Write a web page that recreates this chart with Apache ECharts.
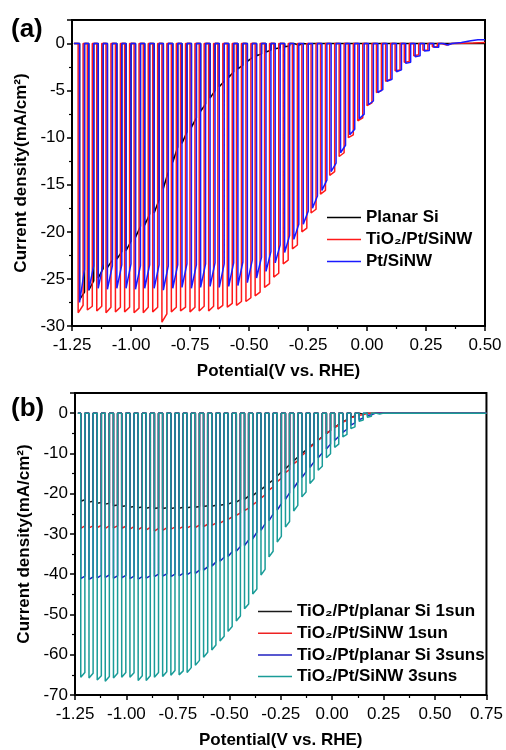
<!DOCTYPE html>
<html><head><meta charset="utf-8">
<script src="https://cdn.jsdelivr.net/npm/echarts@6/dist/echarts.min.js"></script>
<style>html,body{margin:0;padding:0;background:#fff}#c{width:506px;height:750px}</style>
</head><body><div id="c"></div>
<script>
// ================= Panel (a) data =================
const aSeriesNames = ['Planar Si', 'TiO\u2082/Pt/SiNW', 'Pt/SiNW'];
const aFirstV = -1.242;
const aOnWidth = 0.021;
// light-on start potentials (V vs RHE)
const aChopBlue = [-1.218,-1.179,-1.139,-1.100,-1.060,-1.021,-0.981,-0.942,-0.902,-0.863,-0.823,-0.784,-0.744,-0.705,-0.665,-0.626,-0.586,-0.547,-0.507,-0.468,-0.428,-0.389,-0.349,-0.310,-0.270,-0.231,-0.191,-0.152,-0.112,-0.073,-0.033,0.006,0.046,0.085,0.125,0.164,0.204,0.243,0.283,0.322];
const aChopRed = [-1.224,-1.185,-1.145,-1.106,-1.066,-1.027,-0.987,-0.948,-0.908,-0.869,-0.829,-0.790,-0.750,-0.711,-0.671,-0.632,-0.592,-0.553,-0.513,-0.474,-0.434,-0.395,-0.355,-0.316,-0.276,-0.237,-0.197,-0.158,-0.118,-0.079,-0.039,0.000,0.040,0.079,0.119,0.158,0.198,0.237,0.277,0.316];
// light-on current at start / end of each pulse (mA/cm2)
const aBlackStart = [-27.2,-26.2,-24.9,-23.8,-22.9,-22.0,-20.6,-19.3,-18.0,-15.4,-12.6,-10.6,-8.9,-7.2,-5.8,-4.6,-3.6,-2.7,-1.9,-1.3,-0.9,-0.55,-0.35,-0.2,-0.1,0,0,0,0,0,0,0,0,0,0,0,0,0,0,0];
const aBlackEnd   = [-26.4,-25.2,-23.9,-23.0,-22.1,-21.0,-19.4,-18.1,-16.6,-13.6,-11.0,-9.4,-7.9,-6.4,-5.0,-4.0,-3.0,-2.3,-1.5,-1.1,-0.7,-0.45,-0.25,-0.15,-0.05,0,0,0,0,0,0,0,0,0,0,0,0,0,0,0];
const aRedStart = [-28.6,-28.3,-28.4,-28.6,-28.5,-28.5,-28.6,-28.6,-28.5,-29.6,-28.5,-28.4,-28.5,-28.4,-28.4,-28.2,-28.0,-27.8,-27.4,-26.8,-25.9,-24.8,-23.4,-21.8,-20.0,-18.0,-16.0,-14.0,-12.0,-10.0,-8.2,-6.6,-5.2,-4.0,-2.9,-2.0,-1.3,-0.7,-0.35,-0.15];
const aRedEnd   = [-27.8,-27.9,-27.9,-28.0,-28.0,-28.0,-28.1,-28.0,-28.0,-28.7,-28.0,-28.0,-28.0,-27.9,-27.9,-27.8,-27.6,-27.4,-27.0,-26.4,-25.5,-24.4,-23.0,-21.4,-19.6,-17.6,-15.6,-13.6,-11.6,-9.7,-7.9,-6.3,-5.0,-3.8,-2.8,-1.9,-1.2,-0.7,-0.35,-0.15];
const aBlueStart = [-27.5,-26.2,-26.0,-26.1,-26.0,-26.0,-26.1,-26.0,-26.0,-26.2,-26.0,-25.9,-26.0,-25.9,-25.8,-25.9,-25.8,-25.7,-25.4,-24.9,-24.2,-23.3,-22.2,-20.8,-19.2,-17.5,-15.6,-13.6,-11.6,-9.7,-8.0,-6.5,-5.2,-4.0,-3.0,-2.1,-1.4,-0.8,-0.4,-0.15];
const aBlueEnd   = [-24.0,-23.6,-23.4,-23.6,-23.5,-23.4,-23.6,-23.5,-23.5,-23.6,-23.5,-23.4,-23.5,-23.4,-23.3,-23.4,-23.3,-23.2,-23.0,-22.7,-22.1,-21.4,-20.4,-19.2,-17.8,-16.2,-14.5,-12.7,-10.8,-9.1,-7.5,-6.1,-4.9,-3.8,-2.8,-2.0,-1.3,-0.75,-0.4,-0.15];
// dark current after the last chop
const aBlackTail = [[0.36,0],[0.50,0]];
const aRedTail = [[0.36,0],[0.45,0.05],[0.50,0.1]];
const aBlueTail = [[0.36,0],[0.40,0.1],[0.44,0.3],[0.47,0.4],[0.50,0.4]];

// ================= Panel (b) data =================
const bSeriesNames = ['TiO\u2082/Pt/planar Si 1sun','TiO\u2082/Pt/SiNW 1sun','TiO\u2082/Pt/planar Si 3suns','TiO\u2082/Pt/SiNW 3suns'];
const bFirstV = -1.236;
const bOnWidth = 0.02;
const bChop = [-1.222,-1.182,-1.142,-1.103,-1.063,-1.023,-0.983,-0.943,-0.904,-0.864,-0.824,-0.784,-0.744,-0.705,-0.665,-0.625,-0.585,-0.545,-0.506,-0.466,-0.426,-0.386,-0.346,-0.307,-0.267,-0.227,-0.187,-0.147,-0.108,-0.068,-0.028,0.012,0.052,0.091,0.131,0.171,0.211,0.251];
const bBlackStart = [-21.9,-22.1,-22.4,-22.6,-23.0,-23.2,-23.4,-23.5,-23.6,-23.7,-23.7,-23.7,-23.6,-23.5,-23.4,-23.2,-23.1,-22.9,-22.6,-22.1,-21.4,-20.5,-19.0,-17.4,-15.6,-13.8,-11.9,-10.0,-8.3,-6.7,-5.1,-3.6,-2.2,-1.1,-0.45,-0.15,0,0];
const bBlackEnd   = [-21.5,-21.9,-22.2,-22.4,-22.8,-23.0,-23.2,-23.3,-23.4,-23.5,-23.5,-23.5,-23.4,-23.3,-23.2,-23.0,-22.9,-22.7,-22.2,-21.5,-20.6,-19.7,-18.2,-16.6,-14.6,-12.8,-10.9,-9.2,-7.5,-5.9,-4.3,-2.8,-1.6,-0.7,-0.25,-0.05,0,0];
const bRedStart = [-28.6,-28.5,-28.4,-28.6,-28.5,-28.6,-28.8,-28.9,-29.0,-29.3,-29.1,-28.8,-28.7,-28.5,-28.4,-28.2,-27.9,-27.3,-26.4,-25.4,-24.2,-22.8,-21.1,-19.1,-17.0,-14.8,-12.6,-10.5,-8.5,-6.6,-5.0,-3.5,-2.2,-1.1,-0.5,-0.15,0,0];
const bRedEnd   = [-28.0,-28.0,-27.9,-28.0,-28.0,-28.1,-28.2,-28.3,-28.4,-28.6,-28.5,-28.3,-28.2,-28.0,-27.8,-27.6,-27.3,-26.7,-25.8,-24.8,-23.6,-22.0,-20.3,-18.3,-16.2,-14.0,-11.8,-9.7,-7.7,-6.0,-4.4,-3.0,-1.8,-0.9,-0.4,-0.1,0,0];
const bBlueStart = [-41.1,-41.3,-40.9,-40.8,-41.0,-40.9,-41.1,-41.2,-41.0,-40.6,-40.5,-40.6,-40.4,-40.1,-39.8,-39.0,-38.0,-36.8,-35.6,-34.3,-32.9,-31.2,-29.1,-26.7,-24.1,-21.4,-18.7,-16.0,-13.5,-11.1,-8.9,-6.8,-4.8,-3.0,-1.6,-0.6,-0.15,0];
const bBlueEnd   = [-40.5,-40.7,-40.3,-40.2,-40.4,-40.3,-40.5,-40.6,-40.4,-40.0,-39.9,-40.0,-39.8,-39.5,-39.0,-38.2,-37.0,-35.8,-34.4,-33.1,-31.5,-29.6,-27.5,-25.1,-22.5,-19.8,-17.1,-14.6,-12.1,-9.9,-7.7,-5.8,-4.0,-2.4,-1.2,-0.4,-0.05,0];
const bTealStart = [-65.6,-65.8,-66.3,-66.6,-65.8,-65.6,-65.6,-66.4,-66.4,-65.6,-65.4,-65.1,-65.0,-64.4,-62.6,-60.6,-58.8,-56.6,-54.2,-51.6,-48.6,-44.9,-40.2,-35.7,-32.0,-28.3,-24.3,-20.8,-17.5,-14.2,-11.1,-8.5,-5.9,-3.8,-2.0,-1.0,-0.3,-0.05];
const bTealEnd   = [-64.4,-64.6,-65.2,-65.4,-64.6,-64.4,-64.5,-65.2,-65.2,-64.4,-64.2,-63.9,-64.0,-63.2,-61.4,-59.4,-57.6,-55.4,-53.0,-50.4,-47.4,-43.7,-38.8,-34.3,-30.6,-26.9,-22.9,-19.6,-16.3,-13.2,-10.1,-7.7,-5.3,-3.4,-1.7,-0.8,-0.2,0];
const bTail = [[0.30,0],[0.75,0]];

// ================= Axis tick settings =================
const aX = {min: -1.25, max: 0.5, interval: 0.25};
const aY = {min: -30, max: 2.5, interval: 5};
const bX = {min: -1.25, max: 0.75, interval: 0.25};
const bY = {min: -70, max: 5, interval: 10};

function chopped(first, starts, width, js, je, tail) {
  const pts = [[first, 0]];
  for (let k = 0; k < starts.length; k++) {
    const s = starts[k], e = s + width;
    pts.push([s, 0], [s, js[k]], [e, je[k]], [e, 0]);
  }
  return pts.concat(tail);
}

const FONT = '"Liberation Sans", Arial, sans-serif';
const chart = echarts.init(document.getElementById('c'), null, {renderer: 'canvas', width: 506, height: 750});

function xAxisCfg(gi, r) {
  return {
    type: 'value', gridIndex: gi, min: r.min, max: r.max, interval: r.interval,
    name: 'Potential(V vs. RHE)', nameLocation: 'middle', nameGap: 37,
    nameTextStyle: {fontFamily: FONT, fontWeight: 'bold', fontSize: 17, color: '#000'},
    axisLine: {onZero: false, lineStyle: {color: '#000', width: 2}},
    axisTick: {inside: false, length: 5, lineStyle: {color: '#000', width: 1.5}},
    minorTick: {show: true, splitNumber: 2, length: 3, lineStyle: {color: '#000', width: 1.2}},
    splitLine: {show: false},
    axisLabel: {fontFamily: FONT, fontSize: 17, color: '#000', margin: 11, formatter: v => v.toFixed(2)}
  };
}
function yAxisCfg(gi, r, step) {
  return {
    type: 'value', gridIndex: gi, min: r.min, max: r.max, interval: r.interval,
    name: 'Current density(mA/cm\u00B2)', nameLocation: 'middle', nameGap: 34,
    nameTextStyle: {fontFamily: FONT, fontWeight: 'bold', fontSize: 17, color: '#000'},
    axisLine: {onZero: false, lineStyle: {color: '#000', width: 2}},
    axisTick: {inside: false, length: 5, lineStyle: {color: '#000', width: 1.5}},
    minorTick: {show: true, splitNumber: 2, length: 3, lineStyle: {color: '#000', width: 1.2}},
    splitLine: {show: false},
    axisLabel: {fontFamily: FONT, fontSize: 17, color: '#000', margin: 7,
      formatter: v => (Math.abs(v % step) < 1e-9 ? String(v) : '')}
  };
}
function lineSeries(name, xi, color, data, z) {
  return {
    type: 'line', name: name, xAxisIndex: xi, yAxisIndex: xi, data: data,
    symbol: 'none', showSymbol: false, animation: false, z: z,
    lineStyle: {color: color, width: 1.5}, itemStyle: {color: color}
  };
}

const aColors = ['#000000', '#ff1a1a', '#1a1aff'];
const bColors = ['#1a1a1a', '#ee2222', '#2020c0', '#1a9c98'];
const legendText = {fontFamily: FONT, fontWeight: 'bold', fontSize: 17, color: '#000'};

chart.setOption({
  animation: false,
  backgroundColor: '#fff',
  grid: [
    {left: 72, top: 20, width: 413, height: 306, show: true, borderColor: '#000', borderWidth: 2},
    {left: 75, top: 393, width: 413, height: 304, show: true, borderColor: '#000', borderWidth: 2}
  ],
  xAxis: [xAxisCfg(0, aX), xAxisCfg(1, bX)],
  yAxis: [yAxisCfg(0, aY, 5), yAxisCfg(1, bY, 10)],
  legend: [
    {data: aSeriesNames, orient: 'vertical', left: 327, top: 209, padding: 0, itemWidth: 34, itemHeight: 12, itemGap: 5,
     icon: 'path://M0,0 L68,0 L68,3 L0,3 Z', textStyle: legendText},
    {data: bSeriesNames, orient: 'vertical', left: 258, top: 603, padding: 0, itemWidth: 34, itemHeight: 12, itemGap: 4.7,
     icon: 'path://M0,0 L68,0 L68,3 L0,3 Z', textStyle: legendText}
  ],
  graphic: [
    {type: 'text', left: 11, top: 17, style: {text: '(a)', font: 'bold 26px ' + FONT, fill: '#000'}},
    {type: 'text', left: 11, top: 396, style: {text: '(b)', font: 'bold 26px ' + FONT, fill: '#000'}}
  ],
  series: [
    lineSeries(aSeriesNames[0], 0, aColors[0], chopped(aFirstV, aChopBlue, aOnWidth, aBlackStart, aBlackEnd, aBlackTail), 2),
    lineSeries(aSeriesNames[1], 0, aColors[1], chopped(aFirstV, aChopRed, aOnWidth, aRedStart, aRedEnd, aRedTail), 3),
    lineSeries(aSeriesNames[2], 0, aColors[2], chopped(aFirstV, aChopBlue, aOnWidth, aBlueStart, aBlueEnd, aBlueTail), 4),
    lineSeries(bSeriesNames[0], 1, bColors[0], chopped(bFirstV, bChop, bOnWidth, bBlackStart, bBlackEnd, bTail), 2),
    lineSeries(bSeriesNames[1], 1, bColors[1], chopped(bFirstV, bChop, bOnWidth, bRedStart, bRedEnd, bTail), 3),
    lineSeries(bSeriesNames[2], 1, bColors[2], chopped(bFirstV, bChop, bOnWidth, bBlueStart, bBlueEnd, bTail), 4),
    lineSeries(bSeriesNames[3], 1, bColors[3], chopped(bFirstV, bChop, bOnWidth, bTealStart, bTealEnd, bTail), 5)
  ]
});
</script></body></html>
